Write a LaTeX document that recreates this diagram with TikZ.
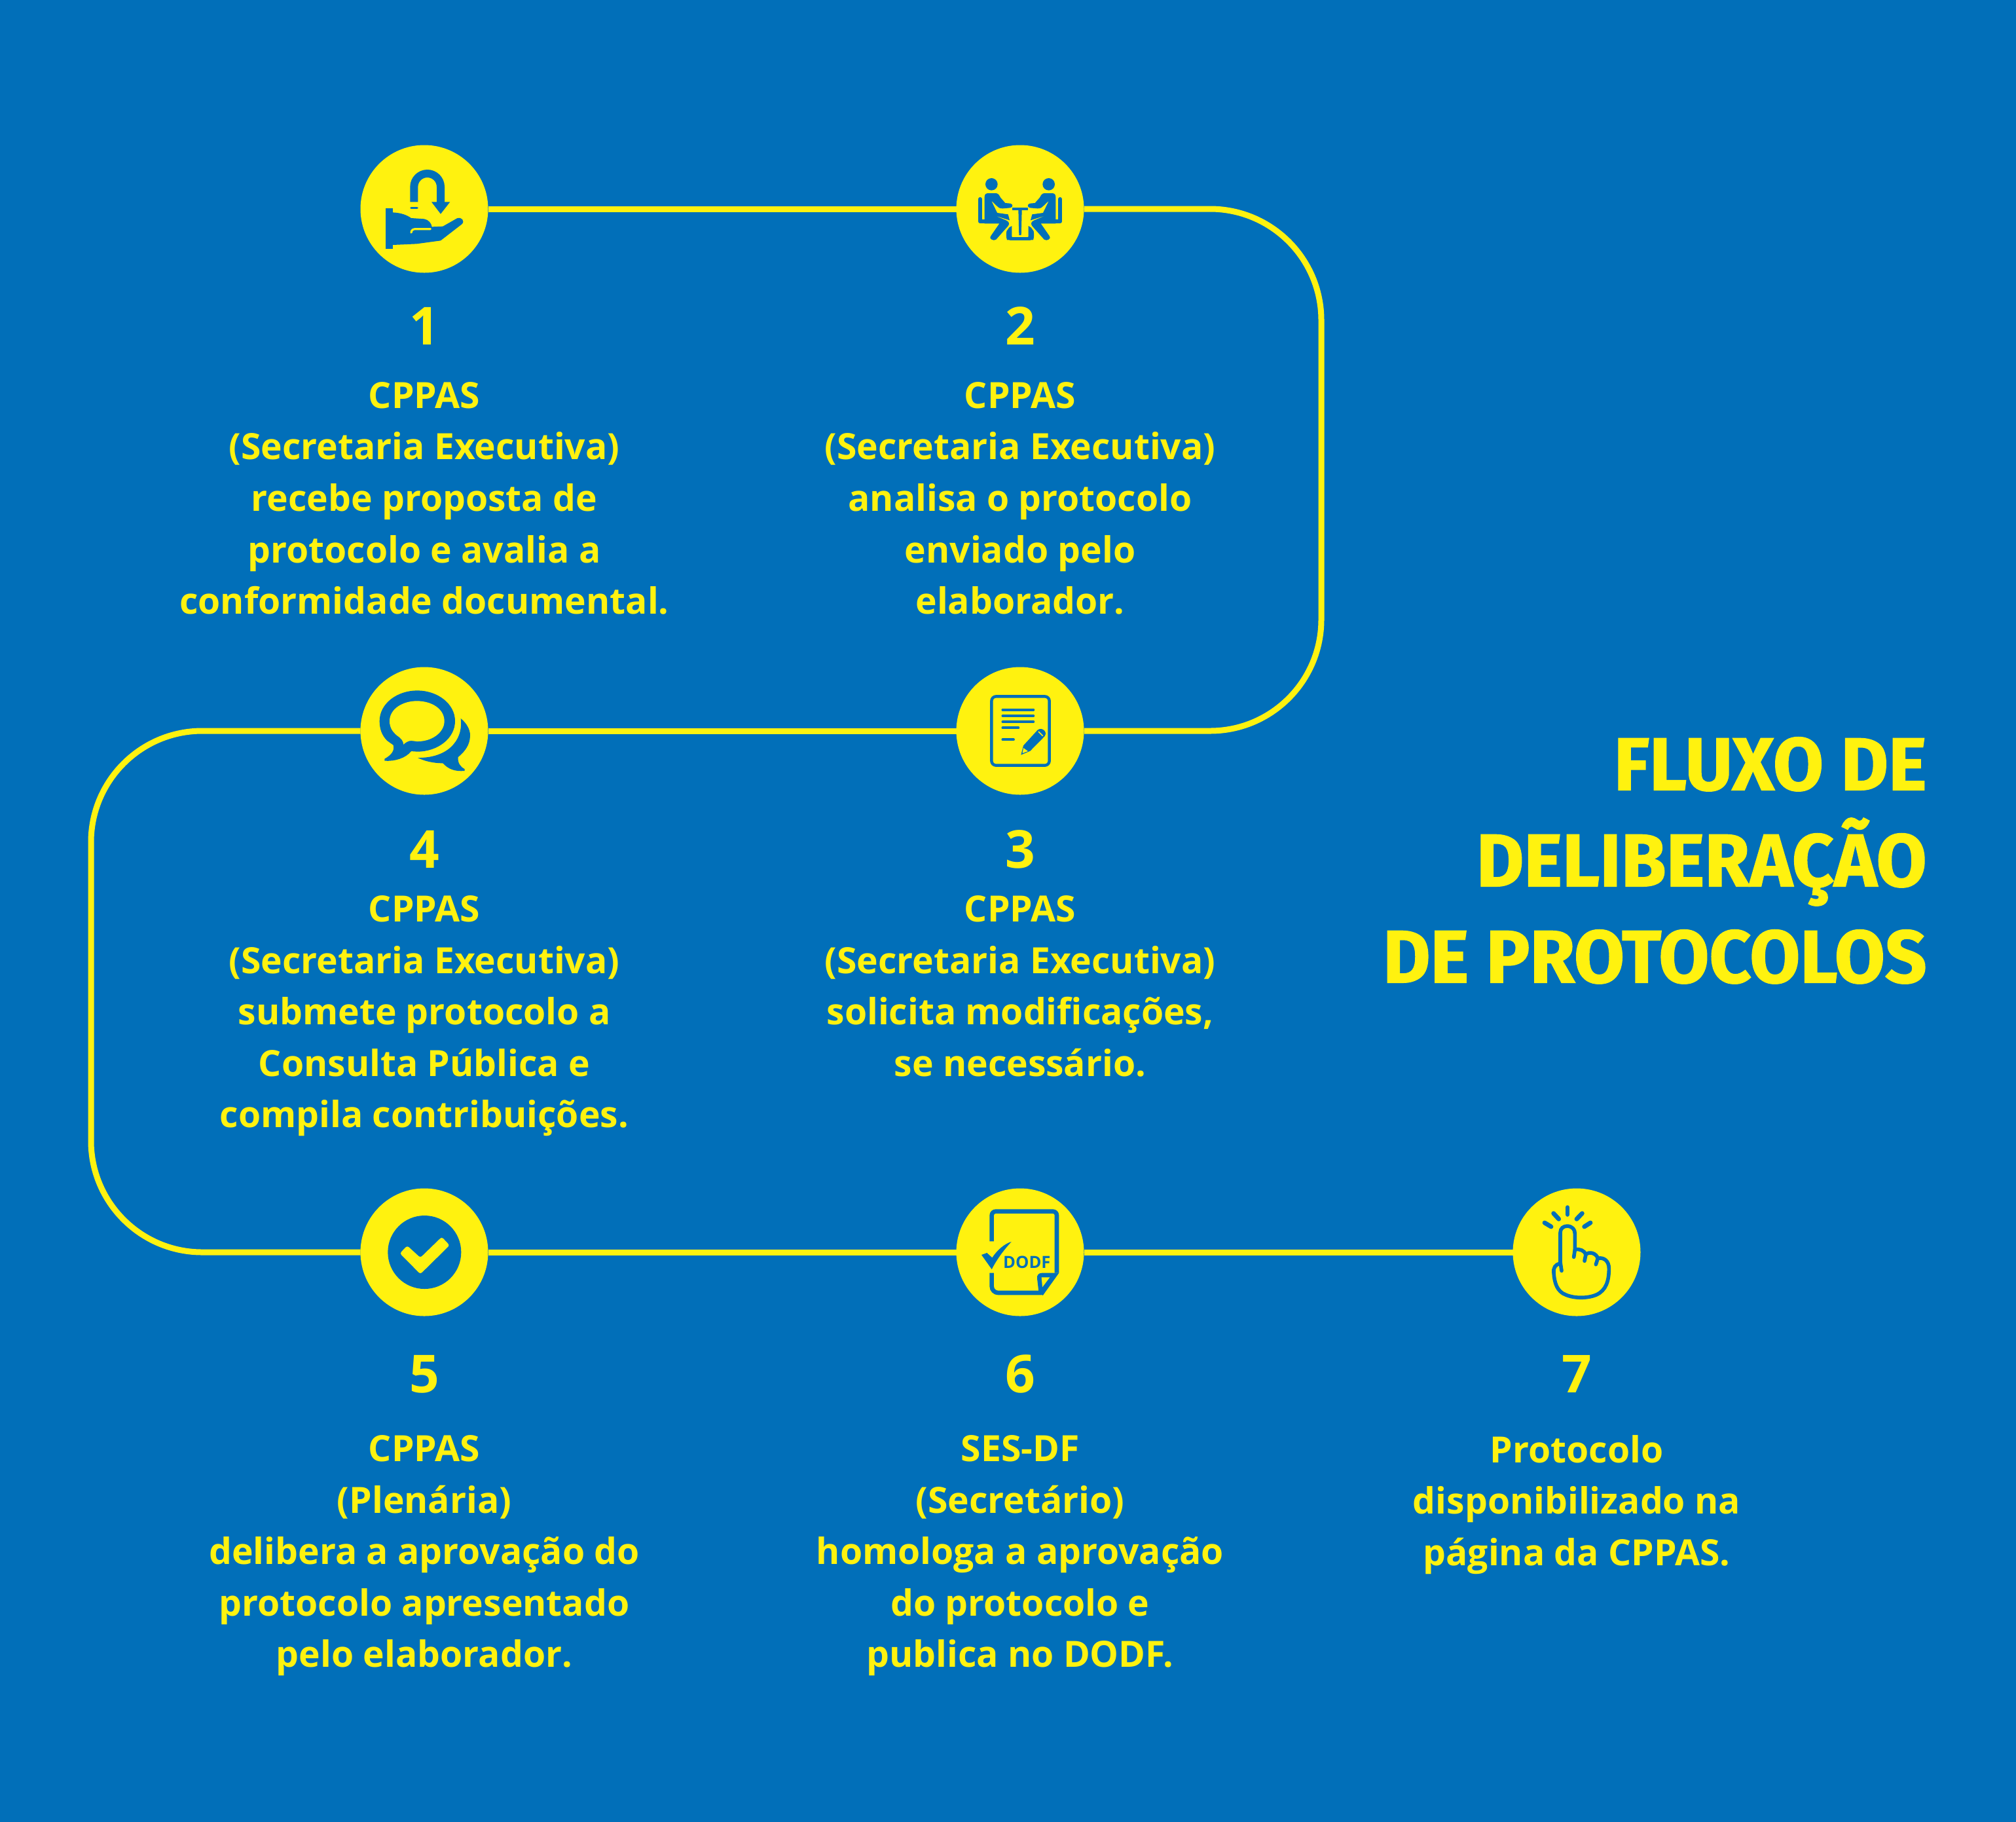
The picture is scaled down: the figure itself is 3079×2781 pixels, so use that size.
\documentclass[tikz,border=0pt]{standalone}
\usepackage{fontspec}
\setmainfont{Open Sans}
\newfontfamily\titlefont{Fira Sans}[BoldFeatures={FakeBold=1.2,FakeStretch=0.978}]
\definecolor{bgblue}{RGB}{1,111,185}
\definecolor{flowyellow}{RGB}{255,242,15}
\tikzset{
  stepcirc/.style={circle,fill=flowyellow,minimum size=97.5pt,inner sep=0pt,outer sep=0pt},
  flowline/.style={draw=flowyellow,line width=4.5pt},
  stepnum/.style={text=flowyellow,font=\fontsize{40}{48}\selectfont\bfseries,inner sep=0pt},
  steptext/.style={text=flowyellow,font=\fontsize{27.6}{39.3}\selectfont\bfseries,align=center,anchor=north,inner sep=0pt},
  titletext/.style={text=flowyellow,font=\titlefont\fontsize{57}{73.5}\selectfont\bfseries,align=right,anchor=north east,inner sep=0pt},
  iconbox/.style={x=0.16667pt,y=-0.16667pt,shift={(-300,-300)}},
  iconfill/.style={fill=bgblue},
  iconpen/.style={draw=bgblue,line cap=round,line join=round}
}
\begin{document}
\begin{tikzpicture}[x=0.5pt,y=-0.5pt]
\useasboundingbox (0,0) rectangle (3079,2781);
\fill[bgblue] (-5,-5) rectangle (3084,2786);

\foreach \x/\y [count=\i] in {648/319,1558/319,1558/1116,648/1116,648/1912,1558/1912,2408/1912} {
  \node[stepcirc] (c\i) at (\x,\y) {};
}
\coordinate (cr1) at (2018,319);
\coordinate (cr2) at (2018,1116);
\coordinate (cl1) at (139,1116);
\coordinate (cl2) at (139,1912);

\draw[flowline] (c1) -- (c2);
\draw[flowline,rounded corners=85pt] (c2) -- (cr1) -- (cr2) -- (c3);
\draw[flowline] (c3) -- (c4);
\draw[flowline,rounded corners=85pt] (c4) -- (cl1) -- (cl2) -- (c5);
\draw[flowline] (c5) -- (c6);
\draw[flowline] (c6) -- (c7);

\foreach \x/\y [count=\i] in {648/498,1558/498,1558/1297,648/1297,648/2098,1558/2098,2408/2098} {
  \node[stepnum] (n\i) at (\x,\y) {\i};
}

\node[steptext] (t1) at (648,583) {CPPAS\\(Secretaria Executiva)\\recebe proposta de\\protocolo e avalia a\\conformidade documental.};
\node[steptext] (t2) at (1558,583) {CPPAS\\(Secretaria Executiva)\\analisa o protocolo\\enviado pelo\\elaborador.};
\node[steptext] (t3) at (1558,1367) {CPPAS\\(Secretaria Executiva)\\solicita modificações,\\se necessário.};
\node[steptext] (t4) at (648,1367) {CPPAS\\(Secretaria Executiva)\\submete protocolo a\\Consulta Pública e\\compila contribuições.};
\node[steptext] (t5) at (648,2191) {CPPAS\\(Plenária)\\delibera a aprovação do\\protocolo apresentado\\pelo elaborador.};
\node[steptext] (t6) at (1558,2191) {SES-DF\\(Secretário)\\homologa a aprovação\\do protocolo e\\publica no DODF.};
\node[steptext] (t7) at (2408,2191) {Protocolo\\disponibilizado na\\página da CPPAS.};

\node[titletext] (title) at (2943,1125) {FLUXO DE\\DELIBERAÇÃO\\DE PROTOCOLOS};

\begin{scope}[shift={(c1.center)},iconbox]
  \draw[iconpen,line cap=butt,line width=6pt] (253,268) -- (253,199) arc[start angle=180,end angle=360,radius=61] -- (375,270);
  \fill[iconfill] (333,268) -- (418,268) -- (375,323) -- cycle;
  \draw[iconpen,line width=1.8pt] (240,296) -- (267,296);
  \fill[iconfill] (123,297) rectangle (155,482);
  \fill[iconfill] (155,316) .. controls (195,318) and (220,328) .. (240,342) -- (300,346) .. controls (320,350) and (332,365) .. (335,382) -- (385,380) -- (450,343) .. controls (470,335) and (488,355) .. (472,370) -- (375,445) -- (265,460) -- (155,465) -- cycle;
  \draw[draw=flowyellow,line cap=round,line width=1.6pt] (240,408) .. controls (242,395) and (250,392) .. (262,392) -- (328,392);
\end{scope}

\begin{scope}[shift={(c2.center)},iconbox]
  \foreach \s in {1,-1} {
    \begin{scope}[shift={(300,0)},xscale=\s,shift={(-300,0)}]
      \fill[iconfill] (169,187) circle (28);
      \draw[iconpen,line width=3pt] (117,255) -- (117,358) -- (205,358);
      \fill[iconfill] (137,245) .. controls (137,232) and (145,228) .. (155,228) -- (188,228) .. controls (200,228) and (205,238) .. (210,248) -- (232,273) -- (255,275) .. controls (268,278) and (268,292) .. (255,295) -- (220,298) .. controls (205,298) and (198,292) .. (192,285) -- (168,262) -- (195,318) -- (245,325) -- (252,352) -- (183,330) -- (235,352) .. controls (250,358) and (252,368) .. (245,378) -- (190,440) .. controls (178,450) and (155,435) .. (165,425) -- (205,367) -- (137,367) -- cycle;
      \fill[iconfill] (250,385) -- (262,378) -- (262,425) -- (268,442) -- (240,442) .. controls (236,430) and (236,415) .. (238,402) -- cycle;
    \end{scope}
  }
  \fill[iconfill] (265,293) rectangle (335,307);
  \fill[iconfill] (292,305) -- (308,305) -- (305,420) -- (295,420) -- cycle;
  \draw[iconpen,line width=2.2pt] (255,436) -- (345,436);
\end{scope}

\begin{scope}[shift={(c3.center)},iconbox]
  \draw[draw=bgblue,line width=2.2pt,rounded corners=3.5pt] (169,142) rectangle (434,458);
  \foreach \y/\e in {203/361,231/361,258/361,286/292,340/270} {
    \draw[iconpen,line width=1.9pt] (220,\y) -- (\e,\y);
  }
  \fill[iconfill] (304,410) -- (315,367) -- (380,296) .. controls (400,280) and (428,305) .. (412,325) -- (346,392) -- cycle;
  \draw[draw=flowyellow,line width=.8pt] (384,303) -- (404,323);
  \fill[flowyellow] (315,378) -- (336,393) -- (311,402) -- cycle;
\end{scope}

\begin{scope}[shift={(c4.center)},iconbox]
  \fill[iconfill] (130,345) .. controls (105,320) and (95,290) .. (95,255) .. controls (95,175) and (175,115) .. (268,115) .. controls (360,115) and (441,175) .. (441,255) .. controls (441,335) and (360,395) .. (268,395) -- (240,393) .. controls (215,425) and (165,440) .. (118,437) -- (118,428) .. controls (150,410) and (165,390) .. (158,365) -- cycle;
  \fill[flowyellow] (176,322) .. controls (155,305) and (141,285) .. (141,255) .. controls (141,200) and (200,163) .. (266,163) .. controls (335,163) and (392,200) .. (392,255) .. controls (392,310) and (330,350) .. (266,348) -- (240,345) .. controls (225,345) and (212,355) .. (205,362) .. controls (203,345) and (195,335) .. cycle;
  \fill[iconfill] (467,243) .. controls (495,265) and (510,295) .. (510,320) .. controls (510,365) and (485,395) .. (455,420) .. controls (452,445) and (465,465) .. (485,475) -- (485,483) .. controls (440,487) and (410,475) .. (385,448) .. controls (340,448) and (300,438) .. (270,423) .. controls (400,425) and (480,350) .. cycle;
\end{scope}

\begin{scope}[shift={(c5.center)},iconbox]
  \fill[iconfill] (301,300) circle (168);
  \fill[flowyellow,rounded corners=1.6pt] (188,305) -- (222,270) -- (282,325) -- (380,230) -- (416,268) -- (282,400) -- cycle;
\end{scope}

\begin{scope}[shift={(c6.center)},iconbox]
  \draw[draw=bgblue,line width=3.3pt,rounded corners=3pt] (170,250) -- (170,113) -- (468,113) -- (468,395);
  \draw[draw=bgblue,line width=3.3pt,rounded corners=5pt] (170,395) -- (170,486) -- (400,486);
  \fill[iconfill] (478,395) -- (404,498) -- (385,480) -- (378,420) .. controls (376,405) and (385,395) .. (400,395) -- cycle;
  \fill[flowyellow] (398,415) -- (436,415) -- (402,460) -- cycle;
  \fill[iconfill] (123,312) -- (148,303) -- (172,325) .. controls (195,290) and (230,260) .. (260,252) .. controls (225,290) and (195,330) .. (170,378) -- cycle;
  \node[text=bgblue,font=\fontsize{12.8}{14}\selectfont\bfseries,inner sep=0pt] (dodf) at (331,347) {DODF};
\end{scope}

\begin{scope}[shift={(c7.center)},iconbox]
  \foreach \a/\b/\c/\d in {258/95/258/127,194/122/218/148,325/122/300/148,153/165/183/183,363/165/335/183} {
    \draw[iconpen,line width=3.4pt] (\a,\b) -- (\c,\d);
  }
  \draw[iconpen,line width=2.8pt] (231,385) -- (225,345) -- (225,210) .. controls (225,190) and (240,180) .. (258,180) .. controls (280,182) and (292,195) .. (292,215) -- (292,288) -- (287,322);
  \draw[iconpen,line width=2.8pt] (225,352) .. controls (200,355) and (192,375) .. (195,395) .. controls (198,440) and (210,480) .. (250,495) .. controls (290,512) and (350,512) .. (390,495) .. controls (435,475) and (448,430) .. (448,375) .. controls (448,340) and (425,322) .. (397,328) .. controls (390,305) and (360,295) .. (342,310) .. controls (335,293) and (315,283) .. (292,288);
  \draw[iconpen,line width=2.8pt] (342,310) -- (336,340);
  \draw[iconpen,line width=2.8pt] (397,328) -- (388,356);
\end{scope}
\end{tikzpicture}
\end{document}
